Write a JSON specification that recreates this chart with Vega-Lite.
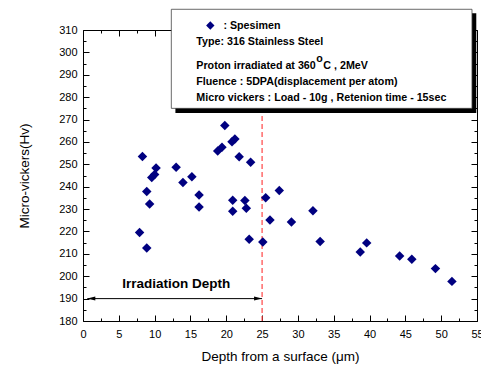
{
  "$schema": "https://vega.github.io/schema/vega-lite/v6.json",
  "autosize": "none",
  "width": 394,
  "height": 291,
  "padding": {"left": 83, "top": 30, "right": 4, "bottom": 44},
  "background": "white",
  "config": {
    "view": {"stroke": null},
    "axis": {
      "grid": false,
      "domainColor": "black",
      "tickColor": "black",
      "labelColor": "black",
      "titleColor": "black",
      "labelFont": "Liberation Sans",
      "titleFont": "Liberation Sans",
      "labelFontSize": 11,
      "titleFontSize": 13.5,
      "titleFontWeight": "normal",
      "labelFlush": false
    }
  },
  "datasets": {
    "pts": [
      {"depth": 7.9, "hv": 219.5}, {"depth": 8.3, "hv": 253.5}, {"depth": 8.9, "hv": 237.8}, {"depth": 8.9, "hv": 212.6},
      {"depth": 9.3, "hv": 232.3}, {"depth": 9.6, "hv": 244.1}, {"depth": 10.0, "hv": 245.4}, {"depth": 10.2, "hv": 248.3},
      {"depth": 13.0, "hv": 248.7}, {"depth": 13.95, "hv": 241.9}, {"depth": 15.2, "hv": 244.4}, {"depth": 16.2, "hv": 236.3},
      {"depth": 16.2, "hv": 230.9}, {"depth": 18.8, "hv": 255.9}, {"depth": 19.4, "hv": 257.6}, {"depth": 19.8, "hv": 267.3},
      {"depth": 20.8, "hv": 260.1}, {"depth": 21.2, "hv": 261.3}, {"depth": 21.8, "hv": 253.4}, {"depth": 23.4, "hv": 250.9},
      {"depth": 20.9, "hv": 233.9}, {"depth": 20.9, "hv": 229.0}, {"depth": 22.6, "hv": 233.8}, {"depth": 22.8, "hv": 230.4},
      {"depth": 23.2, "hv": 216.5}, {"depth": 25.1, "hv": 215.3}, {"depth": 25.5, "hv": 235.1}, {"depth": 26.1, "hv": 225.1},
      {"depth": 27.4, "hv": 238.3}, {"depth": 29.1, "hv": 224.2}, {"depth": 32.1, "hv": 229.2}, {"depth": 33.1, "hv": 215.5},
      {"depth": 38.7, "hv": 210.8}, {"depth": 39.6, "hv": 214.9}, {"depth": 44.2, "hv": 209.0}, {"depth": 45.9, "hv": 207.6},
      {"depth": 49.2, "hv": 203.4}, {"depth": 51.5, "hv": 197.7}
    ]
  },
  "layer": [
    {
      "data": {"values": [{"x": 25, "y": 180, "y2": 275}]},
      "mark": {"type": "rule", "color": "#ff4444", "strokeDash": [5, 3], "strokeWidth": 1.2},
      "encoding": {
        "x": {"field": "x", "type": "quantitative", "axis": null, "scale": {"domain": [0, 55], "nice": false, "zero": false}},
        "y": {"field": "y", "type": "quantitative", "axis": null, "scale": {"domain": [180, 310], "nice": false, "zero": false}},
        "y2": {"field": "y2"}
      }
    },
    {
      "data": {"name": "pts"},
      "mark": {"type": "point", "shape": "diamond", "filled": true, "size": 90, "color": "#000080", "opacity": 1},
      "encoding": {
        "x": {
          "field": "depth", "type": "quantitative",
          "title": "Depth from a surface (μm)",
          "axis": {
            "orient": "bottom",
            "values": [0,2.5,5,7.5,10,12.5,15,17.5,20,22.5,25,27.5,30,32.5,35,37.5,40,42.5,45,47.5,50,52.5,55],
            "labelExpr": "datum.value % 5 === 0 ? datum.label : ''",
            "tickSize": {"condition": {"test": "datum.value % 5 === 0", "value": -6}, "value": -3},
            "labelPadding": 13,
            "titlePadding": 10
          }
        },
        "y": {
          "field": "hv", "type": "quantitative",
          "title": "Micro-vickers(Hv)",
          "axis": {
            "orient": "left",
            "values": [180,185,190,195,200,205,210,215,220,225,230,235,240,245,250,255,260,265,270,275,280,285,290,295,300,305,310],
            "labelExpr": "datum.value % 10 === 0 ? datum.label : ''",
            "tickSize": {"condition": {"test": "datum.value % 10 === 0", "value": -6}, "value": -3},
            "labelPadding": 12,
            "titlePadding": 27
          }
        }
      }
    },
    {
      "data": {"values": [{"x": 0.6, "x2": 25, "y": 190}]},
      "mark": {"type": "rule", "color": "black", "strokeWidth": 1},
      "encoding": {
        "x": {"field": "x", "type": "quantitative", "axis": null},
        "x2": {"field": "x2"},
        "y": {"field": "y", "type": "quantitative", "axis": null}
      }
    },
    {
      "data": {"values": [{"x": 0.6, "y": 190, "dir": "left"}, {"x": 25, "y": 190, "dir": "right"}]},
      "mark": {"type": "point", "filled": true, "color": "black", "size": 64, "opacity": 1},
      "encoding": {
        "x": {"field": "x", "type": "quantitative", "axis": null},
        "y": {"field": "y", "type": "quantitative", "axis": null},
        "shape": {"field": "dir", "type": "nominal", "legend": null,
          "scale": {"domain": ["left", "right"], "range": ["M0,0L2,-0.5L2,0.5Z", "M0,0L-2,-0.5L-2,0.5Z"]}}
      }
    },
    {
      "data": {"values": [{"x": 13.0, "y": 196.7, "t": "Irradiation Depth"}]},
      "mark": {"type": "text", "font": "Liberation Sans", "fontSize": 13.5, "fontWeight": "bold", "color": "black", "align": "center", "baseline": "middle"},
      "encoding": {
        "x": {"field": "x", "type": "quantitative", "axis": null},
        "y": {"field": "y", "type": "quantitative", "axis": null},
        "text": {"field": "t"}
      }
    },
    {
      "data": {"values": [{"x": 12.9, "x2": 54.9, "y": 317.5, "y2": 272.9}]},
      "mark": {"type": "rect", "color": "black"},
      "encoding": {
        "x": {"field": "x", "type": "quantitative", "axis": {"orient": "top", "title": null, "labels": false, "values": [0,2.5,5,7.5,10,12.5,15,17.5,20,22.5,25,27.5,30,32.5,35,37.5,40,42.5,45,47.5,50,52.5,55], "tickSize": {"condition": {"test": "datum.value % 5 === 0", "value": -6}, "value": -3}}},
        "x2": {"field": "x2"},
        "y": {"field": "y", "type": "quantitative", "axis": {"orient": "right", "title": null, "labels": false, "values": [180,185,190,195,200,205,210,215,220,225,230,235,240,245,250,255,260,265,270,275,280,285,290,295,300,305,310], "tickSize": {"condition": {"test": "datum.value % 10 === 0", "value": -6}, "value": -3}}},
        "y2": {"field": "y2"}
      }
    },
    {
      "data": {"values": [{"x": 12.33, "x2": 54.3, "y": 319.25, "y2": 275.0}]},
      "mark": {"type": "rect", "fill": "white", "stroke": "#444444", "strokeWidth": 0.8},
      "encoding": {
        "x": {"field": "x", "type": "quantitative", "axis": null},
        "x2": {"field": "x2"},
        "y": {"field": "y", "type": "quantitative", "axis": null},
        "y2": {"field": "y2"}
      }
    },
    {
      "data": {"values": [{"x": 17.77, "y": 312.0}]},
      "mark": {"type": "point", "shape": "diamond", "filled": true, "size": 70, "color": "#000080", "opacity": 1},
      "encoding": {
        "x": {"field": "x", "type": "quantitative", "axis": null},
        "y": {"field": "y", "type": "quantitative", "axis": null}
      }
    },
    {
      "data": {"values": [
        {"x": 19.6, "y": 312.0, "t": ": Spesimen"},
        {"x": 15.82, "y": 304.8, "t": "Type: 316 Stainless Steel"},
        {"x": 15.82, "y": 293.9, "t": "Proton irradiated at 360"},
        {"x": 32.57, "y": 297.0, "t": "o"},
        {"x": 33.55, "y": 293.9, "t": "C , 2MeV"},
        {"x": 15.82, "y": 286.9, "t": "Fluence : 5DPA(displacement per atom)"},
        {"x": 15.82, "y": 279.8, "t": "Micro vickers : Load - 10g , Retenion time - 15sec"}
      ]},
      "mark": {"type": "text", "font": "Liberation Sans", "fontSize": 10.7, "fontWeight": "bold", "color": "black", "align": "left", "baseline": "middle"},
      "encoding": {
        "x": {"field": "x", "type": "quantitative", "axis": null},
        "y": {"field": "y", "type": "quantitative", "axis": null},
        "text": {"field": "t"}
      }
    }
  ],
  "resolve": {"axis": {"x": "independent", "y": "independent"}}
}
